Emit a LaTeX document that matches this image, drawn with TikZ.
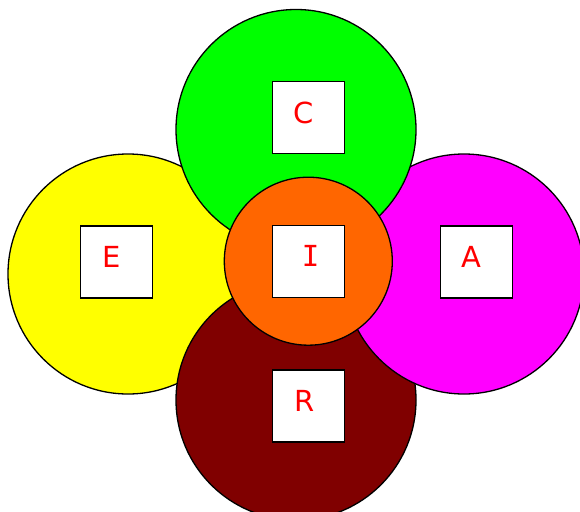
\documentclass[tikz,border=0pt]{standalone}
\usepackage{fontspec}
\setmainfont{DejaVu Sans}
\newfontfamily\monof{DejaVu Sans Mono}
\definecolor{cyel}{RGB}{255,255,0}
\definecolor{cgrn}{RGB}{0,255,0}
\definecolor{cmag}{RGB}{255,0,255}
\definecolor{cmar}{RGB}{128,0,0}
\definecolor{cora}{RGB}{255,102,0}
\definecolor{ctxt}{RGB}{255,0,0}
\begin{document}
\begin{tikzpicture}[x=1pt,y=-1pt,
  disc/.style={circle,draw=black,line width=1.3pt,inner sep=0pt,minimum size=#1},
  sq/.style={rectangle,draw=black,line width=1.5pt,fill=white,inner sep=0pt,minimum size=72pt},
  lbl/.style={text=ctxt,font=\fontsize{29}{30}\selectfont,inner sep=0pt}]
\useasboundingbox (0,0) rectangle (580,511);
\begin{scope}
\clip (0,0) rectangle (580,511);
\node[disc=240pt,fill=cyel] (E) at (128,274) {};
\node[disc=240pt,fill=cmar] (R) at (296,400) {};
\node[disc=240pt,fill=cmag] (A) at (464,274) {};
\node[disc=240pt,fill=cgrn] (C) at (296,129.5) {};
\node[disc=168pt,fill=cora] (I) at (308.3,261.2) {};
\end{scope}
\node[sq] (sC) at (308.3,117.5) {};
\node[sq] (sE) at (116.5,262) {};
\node[sq] (sI) at (308.3,261.7) {};
\node[sq] (sA) at (476.7,262) {};
\node[sq] (sR) at (308.3,406) {};
\node[lbl] (tC) at (304,113) {C};
\node[lbl] (tE) at (111.7,256.7) {E};
\node[lbl] (tI) at (310.7,256) {\monof I};
\node[lbl] (tA) at (471.7,256.7) {A};
\node[lbl] (tR) at (304.3,400.7) {R};
\end{tikzpicture}
\end{document}
